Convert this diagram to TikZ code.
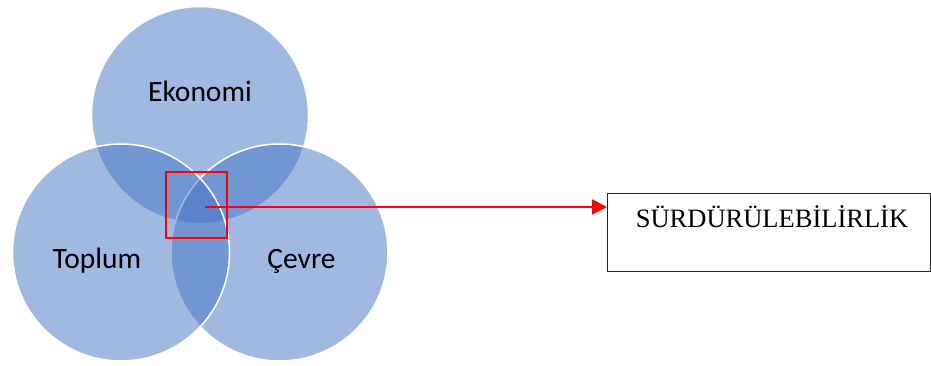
\documentclass[tikz,border=0pt]{standalone}
\usepackage{fontspec}
\setmainfont{Liberation Serif}
\newfontfamily\calfont{Carlito}
\usetikzlibrary{arrows.meta}
\definecolor{venn}{HTML}{4472C4}
\begin{document}
\begin{tikzpicture}[x=1pt,y=-1pt,
  circ/.style={circle, fill=venn, fill opacity=0.5, draw=white, draw opacity=1, line width=1.5pt, minimum size=217pt, inner sep=0pt},
  lab/.style={font=\calfont\fontsize{29.5}{34}\selectfont, anchor=base, text=black},
  focusbox/.style={draw=red, line width=2.5pt, minimum width=61pt, minimum height=66pt, inner sep=0pt},
  resbox/.style={draw=black!85, line width=1pt, minimum width=323pt, minimum height=78pt, anchor=north west, inner sep=0pt},
  restext/.style={font=\fontsize{26.5}{30}\selectfont, anchor=base}]
\useasboundingbox (0,0) rectangle (931,365);
\node[circ] (eko) at (200,115) {};
\node[circ] (cev) at (279.5,252.5) {};
\node[circ] (top) at (121,252.5) {};
\node[lab] (ekot) at (200,101.5) {Ekonomi};
\node[lab] (topt) at (97,268) {Toplum};
\node[lab] (cevt) at (301.5,268) {Çevre};
\node[focusbox] (focus) at (196.5,205) {};
\coordinate (dot) at (205,207);
\node[resbox] (box) at (607,193) {};
\node[restext] (st) at (772,227) {SÜRDÜRÜLEBİLİRLİK};
\draw[red, line width=2pt, -{Triangle[length=15pt,width=15pt]}] (dot) -- (dot -| box.west);
\end{tikzpicture}
\end{document}
